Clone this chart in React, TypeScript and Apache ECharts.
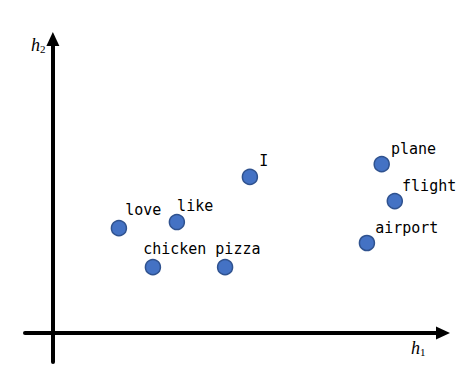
import React, { useEffect, useRef } from "react";
import * as echarts from "echarts";

const words = ["love", "like", "I", "chicken", "pizza", "plane", "flight", "airport"];
const h1Values = [2.37, 4.45, 7.07, 3.59, 6.18, 11.8, 12.27, 11.27];
const h2Values = [3.6, 3.81, 5.36, 2.26, 2.26, 5.8, 4.53, 3.09];
// label placement (left edge dx, vertical centre dy) relative to each point
const labelOffsets: [number, number][] = [
  [7, -17],
  [1, -15],
  [10, -15],
  [-9, -17],
  [-9, -17],
  [10, -14],
  [8, -14],
  [9, -14],
];

const SYM = 15;

export default function App() {
  const ref = useRef<HTMLDivElement>(null);
  useEffect(() => {
    if (!ref.current) return;
    const chart = echarts.init(ref.current, undefined, { renderer: "svg" });
    const axisCommon = {
      axisLine: {
        onZero: true,
        lineStyle: { color: "#000", width: 4 },
        symbol: ["none", "triangle"],
        symbolSize: [13, 14],
      },
      axisTick: { show: false },
      axisLabel: { show: false },
      splitLine: { show: false },
    };
    const rich = {
      h: { fontFamily: "Liberation Serif", fontStyle: "italic", fontSize: 18, fill: "#000" },
      s: { fontFamily: "Liberation Serif", fontSize: 11, fill: "#000", padding: [8, 0, 0, 0] },
    };
    chart.setOption({
      animation: false,
      backgroundColor: "#fff",
      grid: { left: 25, right: 29, top: 39, bottom: 15 },
      xAxis: { type: "value", min: -1, max: 14, ...axisCommon },
      yAxis: { type: "value", min: -1, max: 10.1, ...axisCommon },
      graphic: [
        {
          type: "text",
          left: 31,
          top: 36,
          style: { text: "{h|h}{s|2}", rich },
        },
        {
          type: "text",
          left: 411,
          top: 339,
          style: { text: "{h|h}{s|1}", rich },
        },
      ],
      series: [
        {
          type: "scatter",
          symbolSize: SYM,
          itemStyle: { color: "#4472C4", borderColor: "#2F528F", borderWidth: 1.5, opacity: 1 },
          data: words.map((w, i) => ({
            name: w,
            value: [h1Values[i], h2Values[i]],
            label: {
              show: true,
              formatter: w,
              position: [SYM / 2 + labelOffsets[i][0], SYM / 2 + labelOffsets[i][1]],
              align: "left",
              verticalAlign: "middle",
              fontFamily: "DejaVu Sans Mono",
              fontSize: 15,
              color: "#000",
            },
          })),
        },
      ],
    });
    return () => chart.dispose();
  }, []);
  return (
    <div
      ref={ref}
      style={{ position: "fixed", left: 0, top: 0, width: 472, height: 377, background: "#fff" }}
    />
  );
}
